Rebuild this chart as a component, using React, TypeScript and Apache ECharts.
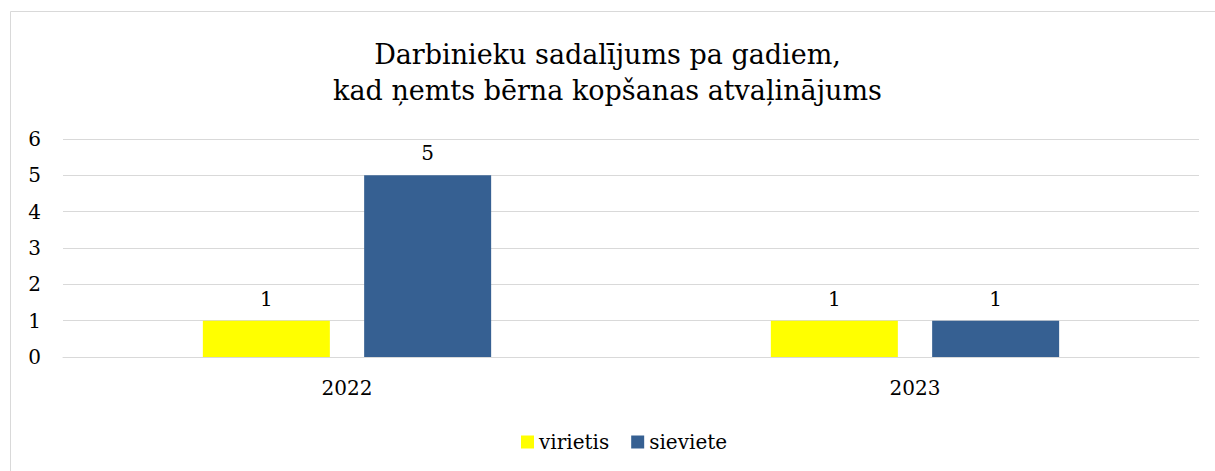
import React, { useEffect, useRef } from "react";
import * as echarts from "echarts";

const categories = ["2022", "2023"];
const seriesNames = ["virietis", "sieviete"];
const virietis = [1, 1];
const sieviete = [5, 1];
const colors = ["#FFFF00", "#366092"];
const titleText = "Darbinieku sadalījums pa gadiem,\nkad ņemts bērna kopšanas atvaļinājums";

const FONT = "DejaVu Serif";

export default function App() {
  const ref = useRef<HTMLDivElement>(null);
  useEffect(() => {
    if (!ref.current) return;
    const chart = echarts.init(ref.current, undefined, { renderer: "svg" });
    const lbl = { fontFamily: FONT, fontSize: 20, color: "#000" };
    chart.setOption({
      animation: false,
      backgroundColor: "#ffffff",
      textStyle: { fontFamily: FONT },
      graphic: [
        {
          type: "rect",
          shape: { x: 10.5, y: 11.5, width: 1220, height: 480 },
          style: { fill: "none", stroke: "#d9d9d9", lineWidth: 1 },
          silent: true,
        },
      ],
      title: {
        text: titleText,
        left: "center",
        top: 31,
        textStyle: {
          fontFamily: FONT,
          fontSize: 27,
          fontWeight: "normal",
          color: "#000000",
          lineHeight: 36,
        },
      },
      legend: {
        top: 427,
        left: 516,
        itemWidth: 13,
        itemHeight: 13,
        itemGap: 22,
        icon: "rect",
        textStyle: { fontFamily: FONT, fontSize: 20, color: "#000" },
        data: seriesNames,
      },
      grid: { left: 63, right: 16, top: 139, bottom: 114, containLabel: false },
      xAxis: {
        type: "category",
        data: categories,
        axisLine: { show: true, lineStyle: { color: "#d9d9d9", width: 1 } },
        axisTick: { show: false },
        axisLabel: { ...lbl, margin: 21 },
      },
      yAxis: {
        type: "value",
        min: 0,
        max: 6,
        interval: 1,
        axisLine: { show: false },
        axisTick: { show: false },
        splitLine: { lineStyle: { color: "#d9d9d9", width: 1 } },
        axisLabel: { ...lbl, margin: 22 },
      },
      series: [
        {
          name: seriesNames[0],
          type: "bar",
          data: virietis,
          itemStyle: { color: colors[0] },
          barWidth: 127,
          barGap: "27%",
          label: { show: true, position: "top", distance: 12, ...lbl },
        },
        {
          name: seriesNames[1],
          type: "bar",
          data: sieviete,
          itemStyle: { color: colors[1] },
          barWidth: 127,
          barGap: "27%",
          label: { show: true, position: "top", distance: 12, ...lbl },
        },
      ],
    });
    return () => chart.dispose();
  }, []);
  return (
    <div
      ref={ref}
      style={{ position: "fixed", left: 0, top: 0, width: 1215, height: 471 }}
    />
  );
}
